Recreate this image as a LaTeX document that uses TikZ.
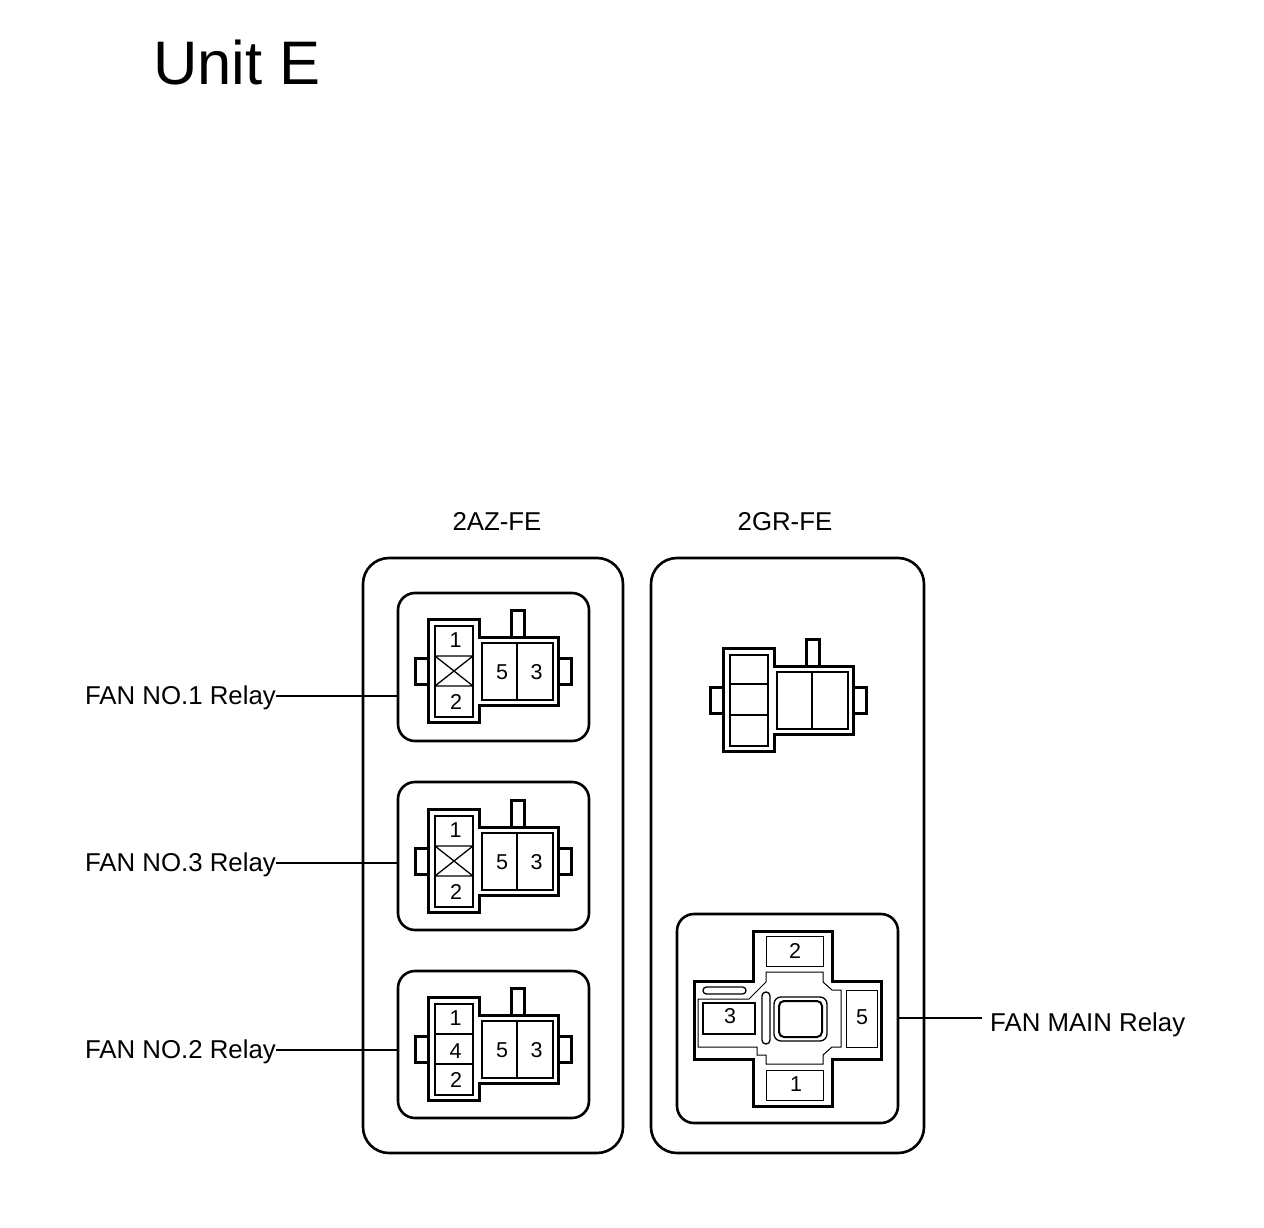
\documentclass[tikz,border=0pt]{standalone}
\usepackage{fontspec}
\setmainfont{Liberation Sans}
\tikzset{
  x=1pt,y=-1pt,
  bigframe/.style={draw,line width=2.6pt,rounded corners=26pt,inner sep=0pt,outer sep=0pt},
  smallframe/.style={draw,line width=2.6pt,rounded corners=17pt,inner sep=0pt,outer sep=0pt},
  shell/.style={line width=3pt,line join=miter},
  inbox/.style={line width=2pt},
  thinbox/.style={line width=1.3pt},
  hairbox/.style={line width=1pt},
  pin/.style={inner sep=0pt,font=\fontsize{21.5}{21.5}\selectfont},
  lab/.style={inner sep=0pt,font=\fontsize{25.8}{25.8}\selectfont},
  leader/.style={line width=1.3pt}
}
% #1 prefix, #2 x, #3 y, #4 contents
\newcommand{\connbody}[4]{%
\begin{scope}[shift={(#2,#3)},name prefix=#1-]
  \draw[shell] (0,39) -- (-13,39) -- (-13,65) -- (0,65);
  \draw[shell] (130,39) -- (143,39) -- (143,65) -- (130,65);
  \draw[shell] (83,18) -- (83,-9) -- (96,-9) -- (96,18);
  \draw[shell] (0,0) -- (51,0) -- (51,18) -- (130,18) -- (130,86) -- (51,86) -- (51,103) -- (0,103) -- cycle;
  \draw[inbox] (7,7) rectangle (45,98);
  \draw[thinbox] (54,24) rectangle (125,81);
  \draw[thinbox] (89,24) -- (89,81);
  #4
\end{scope}}
\newcommand{\pinsfive}{%
  \node[pin] (p1) at (27.5,21) {1};
  \node[pin] (p2) at (28,83) {2};
  \node[pin] (p5) at (74,53) {5};
  \node[pin] (p3) at (108.5,53) {3};}
\begin{document}
\begin{tikzpicture}
\useasboundingbox (0,0) rectangle (1264,1228);
\fill[white] (0,0) rectangle (1264,1228);

\node[anchor=base west,inner sep=0pt,font=\fontsize{61.5}{61.5}\selectfont] (title) at (153,85) {Unit E};
\node[lab,anchor=base] (h1) at (497,530) {2AZ-FE};
\node[lab,anchor=base] (h2) at (785,530) {2GR-FE};

\node[bigframe,minimum width=260pt,minimum height=595pt] (big1) at (493,855.5) {};
\node[bigframe,minimum width=273pt,minimum height=595pt] (big2) at (787.5,855.5) {};
\node[smallframe,minimum width=191pt,minimum height=148pt] (f1) at (493.5,667) {};
\node[smallframe,minimum width=191pt,minimum height=148pt] (f2) at (493.5,856) {};
\node[smallframe,minimum width=191pt,minimum height=147pt] (f3) at (493.5,1044.5) {};
\node[smallframe,minimum width=221pt,minimum height=209pt] (f4) at (787.5,1018.5) {};

\connbody{r1}{428}{619}{%
  \draw[thinbox] (7,37) -- (45,37) (7,67) -- (45,67) (7,37) -- (45,67) (7,67) -- (45,37);
  \pinsfive}
\connbody{r3}{428}{809}{%
  \draw[thinbox] (7,37) -- (45,37) (7,67) -- (45,67) (7,37) -- (45,67) (7,67) -- (45,37);
  \pinsfive}
\connbody{r2}{428}{997}{%
  \draw[inbox] (7,37) -- (45,37) (7,67) -- (45,67);
  \node[pin] (p4) at (27.5,54) {4};
  \pinsfive}
\connbody{r4}{723}{648}{%
  \draw[thinbox] (7,36) -- (45,36);
  \draw[inbox] (7,67) -- (45,67);}

% FAN MAIN relay socket
\draw[shell] (753,931) -- (832,931) -- (832,981) -- (881,981) -- (881,1059) -- (832,1059) -- (832,1106) -- (753,1106) -- (753,1059) -- (694,1059) -- (694,981) -- (753,981) -- cycle;
\draw[hairbox] (766,936) rectangle (823,966);
\draw[hairbox] (766,1070) rectangle (823,1100);
\draw[hairbox] (846,990) rectangle (877,1047);
\draw[line width=2.4pt] (703,1003) rectangle (755,1034);
\draw[hairbox] (766,972) -- (823,972) -- (823,982) -- (832,990) -- (841,990) -- (841,1047) -- (832,1047) -- (823,1055) -- (823,1064) -- (766,1064) -- (766,1055) -- (757,1055) -- (757,1047) -- (698,1047) -- (698,999) -- (749,999) -- (766,982) -- cycle;
\draw[thinbox,rounded corners=3.4pt] (703,987) rectangle (746,994);
\draw[thinbox,rounded corners=3.9pt] (762,992) rectangle (770,1044);
\draw[thinbox,rounded corners=7pt] (774,997) rectangle (827,1041);
\draw[inbox,rounded corners=5pt] (779,1001) rectangle (822,1037);
\node[pin] (m2) at (795,951) {2};
\node[pin] (m1) at (796,1084) {1};
\node[pin] (m3) at (730,1016) {3};
\node[pin] (m5) at (862,1017) {5};

% Labels and leaders
\node[lab,anchor=base east] (l1) at (276,704) {FAN NO.1 Relay};
\node[lab,anchor=base east] (l3) at (276,871) {FAN NO.3 Relay};
\node[lab,anchor=base east] (l2) at (276,1058) {FAN NO.2 Relay};
\node[lab,anchor=base west] (l4) at (990,1031) {FAN MAIN Relay};
\coordinate (c1) at (276,696);
\coordinate (c3) at (276,863);
\coordinate (c2) at (276,1050);
\coordinate (c4) at (982,1018);
\draw[leader] (c1) -- (c1 -| f1.west);
\draw[leader] (c3) -- (c3 -| f2.west);
\draw[leader] (c2) -- (c2 -| f3.west);
\draw[leader] (c4) -- (c4 -| f4.east);
\end{tikzpicture}
\end{document}
